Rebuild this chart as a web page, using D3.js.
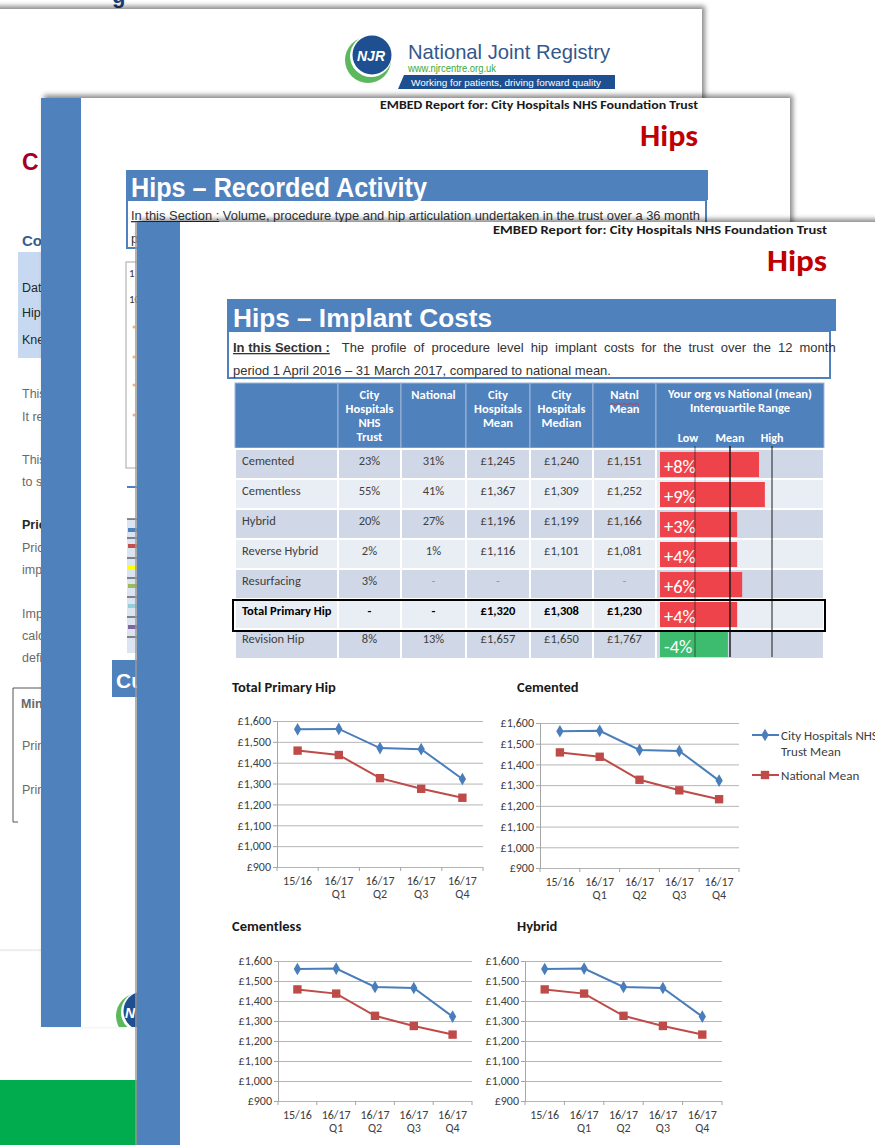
<!DOCTYPE html>
<html>
<head>
<meta charset="utf-8">
<script src="https://cdn.jsdelivr.net/npm/d3@7"></script>
<style>
  body { margin: 0; background: #fff; }
  svg { display: block; }
</style>
</head>
<body>
<svg></svg>
<script>
// ---- data ----
const periods = ["15/16", "16/17 Q1", "16/17 Q2", "16/17 Q3", "16/17 Q4"]
const periodLines = [["15/16"], ["16/17", "Q1"], ["16/17", "Q2"], ["16/17", "Q3"], ["16/17", "Q4"]]
const trustMean = [1560, 1562, 1470, 1465, 1322]
const nationalMean = [1458, 1437, 1326, 1275, 1232]
const costTicks = [900, 1000, 1100, 1200, 1300, 1400, 1500, 1600]
const chartTitles = ["Total Primary Hip", "Cemented", "Cementless", "Hybrid"]
const seriesNames = [["City Hospitals NHS", "Trust Mean"], ["National Mean"]]

const procedures = ["Cemented", "Cementless", "Hybrid", "Reverse Hybrid", "Resurfacing", "Total Primary Hip", "Revision Hip"]
const trustShare = ["23%", "55%", "20%", "2%", "3%", "-", "8%"]
const nationalShare = ["31%", "41%", "27%", "1%", "-", "-", "13%"]
const trustMeanCost = ["£1,245", "£1,367", "£1,196", "£1,116", "-", "£1,320", "£1,657"]
const trustMedianCost = ["£1,240", "£1,309", "£1,199", "£1,101", "", "£1,308", "£1,650"]
const nationalMeanCost = ["£1,151", "£1,252", "£1,166", "£1,081", "-", "£1,230", "£1,767"]
const diffPct = [8, 9, 3, 4, 6, 4, -4]
// where each bar ends on the interquartile scale (Low = -1, Mean = 0, High = 1)
const iqrPosition = [0.69, 0.83, 0.17, 0.17, 0.29, 0.17, -0.06]
const headerLines = [[], ["City", "Hospitals", "NHS", "Trust"], ["National"], ["City", "Hospitals", "Mean"],
    ["City", "Hospitals", "Median"], ["Natnl", "Mean"], ["Your org  vs National (mean)", "Interquartile Range"]]
const iqrLabels = ["Low", "Mean", "High"]

// ---- setup ----
const CAL = "Carlito, Lato, sans-serif"
const ARIAL = "'Liberation Sans', Arial, sans-serif"
const BLUE = "#4f81bd"

const svg = d3.select("svg")
svg
    .attr("width", 875)
    .attr("height", 1145)

const defs = svg.append("defs")
defs.append("filter").attr("id", "shadow")
    .attr("x", "-5%").attr("y", "-5%").attr("width", "110%").attr("height", "110%")
    .append("feDropShadow")
    .attr("dx", 3).attr("dy", -3).attr("stdDeviation", 2.5)
    .attr("flood-color", "#000").attr("flood-opacity", 0.45)
defs.append("clipPath").attr("id", "clip2")
    .append("rect").attr("x", 41).attr("y", 98).attr("width", 749).attr("height", 929)

const txt = (g, x, y, s, size, opts = {}) => {
    const t = g.append("text")
        .attr("x", x).attr("y", y)
        .attr("font-family", opts.font || CAL)
        .attr("font-size", size)
        .attr("font-weight", opts.bold ? "bold" : "normal")
        .attr("fill", opts.fill || "#404040")
        .attr("text-anchor", opts.anchor || "start")
        .text(s)
    if (opts.len) t.attr("textLength", opts.len).attr("lengthAdjust", "spacingAndGlyphs")
    if (opts.italic) t.attr("font-style", "italic")
    return t
}

// ---- back page ----
txt(svg, 112, 3, "g", 22, { bold: true, fill: "#1f3d7a", font: ARIAL })
const page1 = svg.append("g")
page1.append("rect").attr("x", -20).attr("y", 9).attr("width", 722).attr("height", 941)
    .attr("fill", "#fff").attr("filter", "url(#shadow)")
page1.append("line").attr("x1", 0).attr("x2", 41).attr("y1", 950).attr("y2", 950).attr("stroke", "#e3e3e3")

// NJR logo
page1.append("circle").attr("cx", 368).attr("cy", 60).attr("r", 23).attr("fill", "#5cb85c")
page1.append("circle").attr("cx", 371).attr("cy", 56).attr("r", 21).attr("fill", "#fff")
page1.append("circle").attr("cx", 372).attr("cy", 55).attr("r", 19.5).attr("fill", "#1d4f91")
txt(page1, 371, 61, "NJR", 14, { bold: true, italic: true, fill: "#fff", anchor: "middle", font: ARIAL })
txt(page1, 408, 59, "National Joint Registry", 21, { fill: "#34578c", font: ARIAL, len: 202 })
txt(page1, 408, 72, "www.njrcentre.org.uk", 10, { fill: "#3aa935", font: ARIAL, len: 88 })
page1.append("path").attr("d", "M404,75 L615,75 L615,89 L398,89 Z").attr("fill", "#1d4f91")
txt(page1, 411, 86, "Working for patients, driving forward quality", 9.5, { fill: "#fff", font: ARIAL, len: 190 })

// left edge fragments of the back page
txt(page1, 22, 170, "C", 23, { bold: true, fill: "#a50021", font: ARIAL })
txt(page1, 22, 246, "Co", 15, { bold: true, fill: "#365f91", font: ARIAL })
page1.append("rect").attr("x", 18).attr("y", 252).attr("width", 30).attr("height", 106).attr("fill", "#c6d9f1")
const p1Lines = [["Dat", 292, "#262626"], ["Hip", 317, "#262626"], ["Kne", 344, "#262626"],
    ["This", 398], ["It re", 421], ["This", 464], ["to s", 486], ["Pric", 552], ["imp", 574],
    ["Imp", 618], ["calc", 640], ["defi", 662], ["Prin", 750], ["Prin", 794]]
p1Lines.forEach(l => txt(page1, 22, l[1], l[0], 12.5, { fill: l[2] || "#6a6a6a", font: ARIAL }))
txt(page1, 22, 529, "Pric", 12.5, { bold: true, fill: "#262626", font: ARIAL })
txt(page1, 21, 708, "Min", 12.5, { bold: true, fill: "#6a6a6a", font: ARIAL })
page1.append("path").attr("d", "M42,688 L13,688 L13,822 L18,822").attr("fill", "none").attr("stroke", "#555")

svg.append("rect").attr("x", 0).attr("y", 1080).attr("width", 137).attr("height", 65).attr("fill", "#00ac4e")

// ---- middle page ----
svg.append("rect").attr("x", 41).attr("y", 98).attr("width", 749).attr("height", 929)
    .attr("fill", "#fff").attr("filter", "url(#shadow)")
const page2 = svg.append("g").attr("clip-path", "url(#clip2)")
page2.append("rect").attr("x", 41).attr("y", 98).attr("width", 40).attr("height", 929).attr("fill", BLUE)
txt(page2, 380, 109, "EMBED Report for: City Hospitals NHS Foundation Trust", 12.5, { bold: true, fill: "#1a1a1a", len: 318 })
txt(page2, 640, 146, "Hips", 30, { bold: true, fill: "#c00000", len: 58 })
page2.append("rect").attr("x", 126).attr("y", 170).attr("width", 582).attr("height", 30).attr("fill", BLUE)
page2.append("rect").attr("x", 127).attr("y", 200).attr("width", 579).attr("height", 48)
    .attr("fill", "#fff").attr("stroke", BLUE).attr("stroke-width", 2)
txt(page2, 131, 197, "Hips – Recorded Activity", 27, { bold: true, fill: "#fff", font: ARIAL, len: 296 })
const sub2 = txt(page2, 131, 220, "", 13, { fill: "#333", font: ARIAL, len: 569 })
sub2.append("tspan").attr("text-decoration", "underline").text("In this Section :")
sub2.append("tspan").text("  Volume, procedure type and hip articulation undertaken in the trust over a 36 month")
txt(page2, 131, 243, "p", 13, { fill: "#333", font: ARIAL })
// fragments of the activity chart and legend hidden under the front page
page2.append("rect").attr("x", 126).attr("y", 262).attr("width", 30).attr("height", 206)
    .attr("fill", "#fff").attr("stroke", "#a6a6a6")
txt(page2, 129, 277, "1", 11, { fill: "#333" })
txt(page2, 129, 303, "10", 11, { fill: "#333" })
;[327, 357, 385, 415].forEach(y => page2.append("circle").attr("cx", 134).attr("cy", y).attr("r", 1.6).attr("fill", "#f4b183"))
page2.append("line").attr("x1", 127).attr("x2", 137).attr("y1", 487).attr("y2", 487).attr("stroke", BLUE).attr("stroke-width", 2)
page2.append("rect").attr("x", 127).attr("y", 519).attr("width", 12).attr("height", 134).attr("fill", "#dbe5f1")
;[519, 538, 558, 578, 597, 617, 637].forEach(y => page2.append("line").attr("x1", 127).attr("x2", 137)
    .attr("y1", y).attr("y2", y).attr("stroke", "#222"))
;[[530, "#4f81bd"], [546, "#c0504d"], [567, "#ffff00"], [586, "#9bbb59"], [606, "#92cddc"], [627, "#8064a2"]]
    .forEach(c => page2.append("line").attr("x1", 128).attr("x2", 137).attr("y1", c[0]).attr("y2", c[0])
        .attr("stroke", c[1]).attr("stroke-width", 4))
page2.append("rect").attr("x", 112).attr("y", 660).attr("width", 30).attr("height", 37).attr("fill", BLUE)
txt(page2, 116, 688, "Cu", 21, { bold: true, fill: "#fff", font: ARIAL })
page2.append("circle").attr("cx", 139).attr("cy", 1016).attr("r", 23).attr("fill", "#5cb85c")
page2.append("circle").attr("cx", 142).attr("cy", 1012).attr("r", 21).attr("fill", "#fff")
page2.append("circle").attr("cx", 143).attr("cy", 1011).attr("r", 19.5).attr("fill", "#1d4f91")
txt(page2, 125, 1018, "N", 14, { bold: true, italic: true, fill: "#fff", font: ARIAL })

// ---- front page ----
const page3 = svg.append("g")
page3.append("rect").attr("x", 137).attr("y", 222).attr("width", 760).attr("height", 940)
    .attr("fill", "#fff").attr("filter", "url(#shadow)")
page3.append("line").attr("x1", 136).attr("x2", 136).attr("y1", 222).attr("y2", 1145).attr("stroke", "#9a9a9a").attr("stroke-width", 1.5)
page3.append("rect").attr("x", 137).attr("y", 222).attr("width", 43).attr("height", 923).attr("fill", BLUE)
txt(page3, 493, 234, "EMBED Report for: City Hospitals NHS Foundation Trust", 12.5, { bold: true, fill: "#1a1a1a", len: 334 })
txt(page3, 767, 271, "Hips", 30, { bold: true, fill: "#c00000", len: 60 })

page3.append("rect").attr("x", 227).attr("y", 299).attr("width", 609).attr("height", 32).attr("fill", BLUE)
page3.append("rect").attr("x", 228).attr("y", 331).attr("width", 602).attr("height", 47)
    .attr("fill", "#fff").attr("stroke", BLUE).attr("stroke-width", 2)
txt(page3, 233, 327, "Hips – Implant Costs", 25, { bold: true, fill: "#fff", font: ARIAL, len: 259 })
const sub3 = txt(page3, 233, 352, "", 13, { fill: "#333", font: ARIAL })
sub3.append("tspan").attr("font-weight", "bold").attr("text-decoration", "underline").text("In this Section :")
const rest = sub3.append("tspan").attr("dx", 12).text("The profile of procedure level hip implant costs for the trust over the 12 month")
const gap = 594 - sub3.node().getComputedTextLength()
rest.style("word-spacing", (gap / 15) + "px")
txt(page3, 233, 375, "period 1 April 2016 – 31 March 2017, compared  to national mean.", 13, { fill: "#333", font: ARIAL })

// ---- table ----
const colX = [235, 338, 401, 466, 530, 593, 656, 824]
const rowY = d3.scaleBand().domain(procedures).range([449, 659])
const xIqr = d3.scaleLinear().domain([-1, 0, 1]).range([695, 730, 772])
const table = page3.append("g")

table.selectAll("rect.head").data(headerLines).enter().append("rect")
    .attr("class", "head")
    .attr("x", (d, i) => colX[i]).attr("y", 383)
    .attr("width", (d, i) => colX[i + 1] - colX[i]).attr("height", 65)
    .attr("fill", BLUE).attr("stroke", "#9fb7d9").attr("stroke-width", 1)
headerLines.forEach((lines, i) => {
    const cx = (colX[i] + colX[i + 1]) / 2
    lines.forEach((s, j) => txt(table, cx, (i === 6 ? 398 : 399) + j * 14, s, 12.5, { bold: true, fill: "#fff", anchor: "middle" }))
})
iqrLabels.forEach((s, i) => txt(table, xIqr(i - 1) - (i === 0 ? 7 : 0), 442, s, 12, { bold: true, fill: "#fff", anchor: "middle" }))
table.append("path").attr("d", d3.range(609, 641, 3).map((x, k) => (k ? "L" : "M") + x + "," + (k % 2 ? 403 : 405)).join(""))
    .attr("fill", "none").attr("stroke", "#e03030").attr("stroke-width", 0.8)

const columns = [procedures, trustShare, nationalShare, trustMeanCost, trustMedianCost, nationalMeanCost]
procedures.forEach((p, r) => {
    const y0 = rowY(p)
    const fill = r % 2 === 0 ? "#d0d8e8" : "#e9edf4"
    const isTotal = p === "Total Primary Hip"
    for (let c = 0; c < 7; c++) {
        table.append("rect")
            .attr("x", colX[c]).attr("y", y0)
            .attr("width", colX[c + 1] - colX[c]).attr("height", rowY.bandwidth())
            .attr("fill", fill).attr("stroke", "#fff").attr("stroke-width", 2)
    }
    columns.forEach((col, c) => {
        const v = col[r]
        const x = c === 0 ? 242 : (colX[c] + colX[c + 1]) / 2
        txt(table, x, y0 + (p === "Revision Hip" ? 14 : 16), v, 12.5, {
            anchor: c === 0 ? "start" : "middle",
            bold: isTotal,
            fill: isTotal ? "#000" : (v === "-" && p === "Resurfacing" ? "#999" : "#404040")
        })
    })
})

const bars = table.selectAll("g.bar").data(procedures).enter().append("g").attr("class", "bar")
bars.append("rect")
    .attr("x", 660)
    .attr("y", d => rowY(d) + 3)
    .attr("width", (d, i) => xIqr(iqrPosition[i]) - 660)
    .attr("height", rowY.bandwidth() - 5)
    .attr("fill", (d, i) => diffPct[i] >= 0 ? "#ef434b" : "#3dbb6f")
bars.append("text")
    .attr("x", 664)
    .attr("y", d => rowY(d) + 24)
    .attr("font-family", CAL).attr("font-size", 18.5)
    .attr("fill", "#fff")
    .text((d, i) => (diffPct[i] > 0 ? "+" : "") + diffPct[i] + "%")
table.selectAll("line.iqr").data([-1, 0, 1]).enter().append("line")
    .attr("class", "iqr")
    .attr("x1", d => xIqr(d)).attr("x2", d => xIqr(d))
    .attr("y1", 446).attr("y2", 657)
    .attr("stroke", "#1a1a1a").attr("stroke-width", d => d === 0 ? 1.6 : 1.1)
    .attr("stroke-opacity", d => d === -1 ? 0.55 : 0.9)
table.append("rect").attr("x", 233).attr("y", 600).attr("width", 592).attr("height", 31)
    .attr("fill", "none").attr("stroke", "#000").attr("stroke-width", 2)

// ---- line charts ----
const chartBoxes = [
    { left: 277, right: 483, top: 721, bottom: 867, tx: 232, ty: 692 },
    { left: 540, right: 739, top: 723, bottom: 868, tx: 517, ty: 692 },
    { left: 278, right: 472, top: 961, bottom: 1101, tx: 232, ty: 931 },
    { left: 525, right: 722, top: 961, bottom: 1101, tx: 517, ty: 931 }
]
const series = [
    { values: trustMean, color: "#4a7ebb", symbol: d3.symbolDiamond, size: 46 },
    { values: nationalMean, color: "#be4b48", symbol: d3.symbolSquare, size: 70 }
]

const drawChart = function(box, title) {
    const g = page3.append("g")
    const x = d3.scaleBand().domain(periods).range([box.left, box.right])
    const y = d3.scaleLinear().domain([900, 1600]).range([box.bottom, box.top])

    txt(g, box.tx, box.ty, title, 14.5, { bold: true, fill: "#1a1a1a" })

    g.append("g")
        .attr("transform", `translate(${box.left},0)`)
        .call(d3.axisLeft(y).tickValues(costTicks).tickSize(-(box.right - box.left)).tickFormat(""))
        .call(a => a.select(".domain").remove())
        .selectAll("line").attr("stroke", "#b5b5b5")

    const yAxis = g.append("g")
        .attr("transform", `translate(${box.left},0)`)
        .call(d3.axisLeft(y).tickValues(costTicks).tickSize(4).tickPadding(2)
            .tickFormat(d => "£" + d3.format(",")(d)))
    yAxis.selectAll("line, path").attr("stroke", "#a6a6a6")
    yAxis.selectAll("text").attr("font-family", CAL).attr("font-size", 12).attr("fill", "#404040")

    g.selectAll("line.xt").data(periods.map(p => x(p)).concat([box.right])).enter().append("line")
        .attr("x1", d => d).attr("x2", d => d)
        .attr("y1", box.bottom).attr("y2", box.bottom + 4)
        .attr("stroke", "#a6a6a6")
    periodLines.forEach((lines, i) => {
        lines.forEach((s, j) => txt(g, x(periods[i]) + x.bandwidth() / 2, box.bottom + 18 + j * 12.5, s, 12, { anchor: "middle" }))
    })

    const line = d3.line()
        .x((d, i) => x(periods[i]) + x.bandwidth() / 2)
        .y(d => y(d))
    series.forEach(s => {
        g.append("path").attr("d", line(s.values))
            .attr("fill", "none").attr("stroke", s.color).attr("stroke-width", 2)
        g.selectAll(null).data(s.values).enter().append("path")
            .attr("transform", (d, i) => `translate(${x(periods[i]) + x.bandwidth() / 2},${y(d)})`)
            .attr("d", d3.symbol(s.symbol, s.size))
            .attr("fill", s.color)
    })
}

chartBoxes.forEach((box, i) => drawChart(box, chartTitles[i]))

// legend beside the Cemented chart
const legend = page3.append("g")
series.forEach((s, i) => {
    const ly = i === 0 ? 735 : 775
    legend.append("line").attr("x1", 752).attr("x2", 779).attr("y1", ly).attr("y2", ly)
        .attr("stroke", s.color).attr("stroke-width", 2)
    legend.append("path").attr("transform", `translate(765,${ly})`)
        .attr("d", d3.symbol(s.symbol, s.size)).attr("fill", s.color)
    seriesNames[i].forEach((n, j) => txt(legend, 781, ly + 5 + j * 16, n, 13))
})
</script>
</body>
</html>
